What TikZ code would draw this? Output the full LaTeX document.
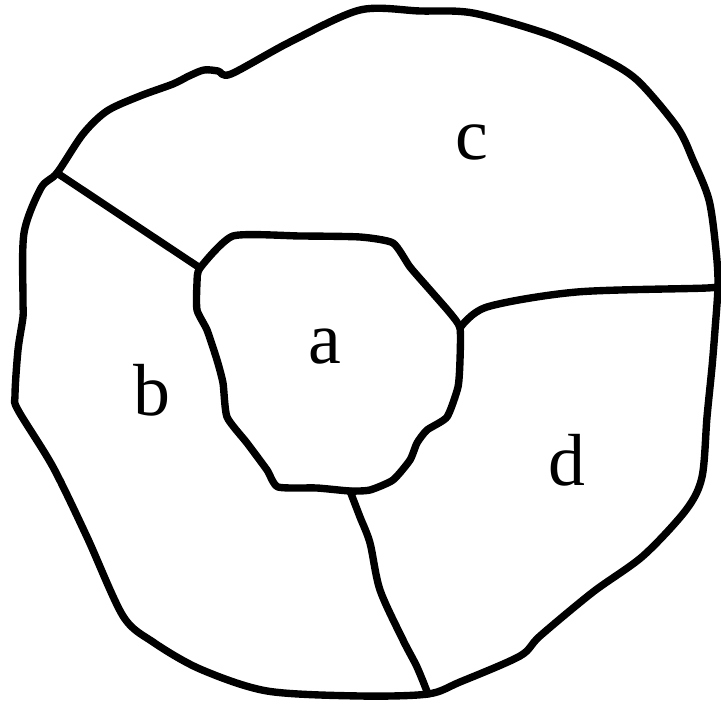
\documentclass[tikz,border=0pt]{standalone}
\usepackage{fontspec}
\setmainfont{Liberation Serif}
\tikzset{border/.style={line width=2.1pt, line cap=round, line join=round},
  lbl/.style={font=\fontsize{21}{25}\selectfont}}

\begin{document}
\begin{tikzpicture}[x=0.1mm,y=-0.1mm]
\useasboundingbox (0,0) rectangle (721,707);
\coordinate (jbc) at (57,173);
\coordinate (jab) at (200,268);
\coordinate (jad) at (460,328);
\coordinate (jcd) at (718,285);
\coordinate (jbd) at (350,491);
\coordinate (jbo) at (428,694);
% outer boundary
\draw[border] plot[smooth cycle, tension=0.5] coordinates {(360,10) (420,11) (473,13) (547,34) (600,57) (637,80) (677,127) (693,160) (709,200) (716,250) (jcd) (715,330) (712,367) (707,417) (702,477) (686,510) (643,556) (593,592) (540,636) (520,656) (460,682) (jbo) (360,696) (267,691) (200,669) (153,642) (123,616) (87,537) (53,467) (18,410) (15,395) (18,350) (23,317) (23,300) (24,233) (41,188) (jbc) (83,134) (107,111) (140,96) (173,84) (189,76) (204,70) (218,71) (231,74) (290,42)};
% inner region a
\draw[border] plot[smooth cycle, tension=0.35] coordinates {(233,236) (300,236) (360,237) (393,243) (410,267) (430,290) (450,313) (jad) (460,360) (458,387) (447,417) (427,430) (417,443) (410,460) (393,480) (370,490) (jbd) (317,488) (278,487) (267,470) (247,443) (227,417) (223,383) (217,360) (207,330) (197,310) (197,283) (jab)};
% borders between b, c, d
\draw[border] (jbc) -- (jab);
\draw[border] plot[smooth, tension=0.5] coordinates {(jad) (487,307) (577,292) (707,288) (jcd)};
\draw[border] plot[smooth, tension=0.5] coordinates {(jbd) (360,517) (370,543) (380,590) (403,640) (417,667) (jbo)};
\node[lbl] (a) at (325,347) {a};
\node[lbl] (b) at (152,390) {b};
\node[lbl] (c) at (472,142) {c};
\node[lbl] (d) at (567,460) {d};
\end{tikzpicture}
\end{document}
